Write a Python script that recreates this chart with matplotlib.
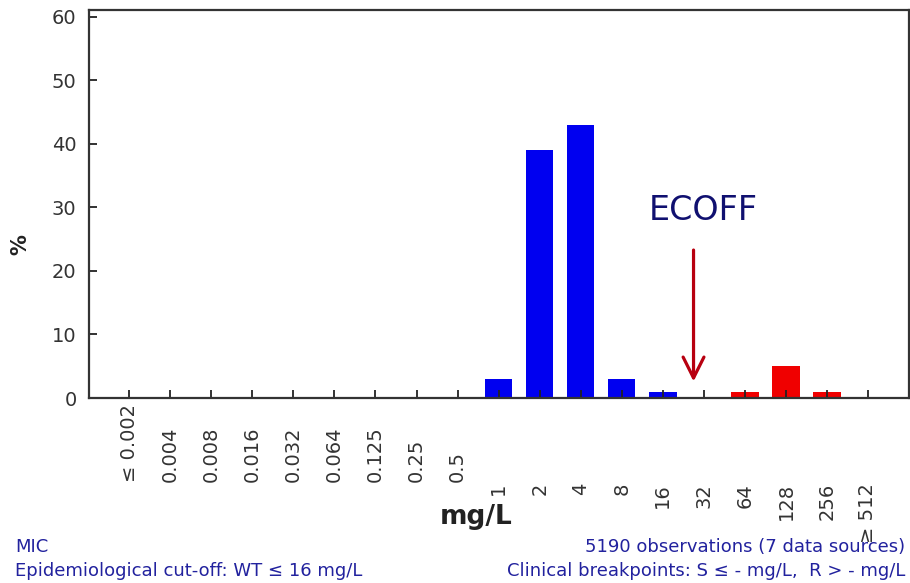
import numpy as np
import matplotlib.pyplot as plt
from matplotlib.transforms import blended_transform_factory

# MIC distribution, percentage of isolates per concentration (mg/L)
mic_labels = ["≤ 0.002", "0.004", "0.008", "0.016", "0.032", "0.064", "0.125",
              "0.25", "0.5", "1", "2", "4", "8", "16", "32", "64", "128", "256", "≥ 512"]
wild_type_pct = [0, 0, 0, 0, 0, 0, 0, 0, 0, 3, 39, 43, 3, 1, 0, 0, 0, 0, 0]
non_wild_pct = [0, 0, 0, 0, 0, 0, 0, 0, 0, 0, 0, 0, 0, 0, 0, 1, 5, 1, 0]
y_ticks = [0, 10, 20, 30, 40, 50, 60]
ecoff_pos = 13.75  # arrow sits between 16 and 32 mg/L
ecoff_arrow = (23.3, 2.6)

text_blue = "#22229e"
font_main = "DejaVu Sans"

fig = plt.figure(figsize=(9.10, 5.83), dpi=100)
ax = fig.add_axes([89 / 910, 1 - 398 / 583, 820 / 910, 388 / 583])

x = np.arange(len(mic_labels))
wt = np.array(wild_type_pct)
nwt = np.array(non_wild_pct)
ax.bar(x[wt > 0], wt[wt > 0], width=0.67, color="#0000f0", zorder=1)
ax.bar(x[nwt > 0], nwt[nwt > 0], width=0.67, color="#f00000", zorder=1)

ax.set_xlim(-0.98, 19.0)
ax.set_ylim(0, 61.1)
ax.set_yticks(y_ticks)
ax.set_xticks(x)
ax.set_xticklabels([])
ax.tick_params(axis="both", direction="in", length=6, width=1.3, color="#222222")
ax.tick_params(axis="y", pad=9, labelsize=14, labelcolor="#333333")
for s in ax.spines.values():
    s.set_linewidth(1.6)
    s.set_color("#333333")

# rotated concentration labels under the axis
trans = blended_transform_factory(ax.transData, fig.transFigure)
for i, lab in enumerate(mic_labels):
    if i < 9:
        ax.text(i, 1 - 482 / 583, lab, transform=trans, rotation=90,
                ha="center", va="bottom", fontsize=14, color="#333333",
                family=font_main)
    else:
        ax.text(i, 1 - 483 / 583, lab, transform=trans, rotation=90,
                ha="center", va="top", fontsize=14, color="#333333",
                family=font_main)

fig.text(20 / 910, 1 - 245 / 583, "%", rotation=90, ha="center", va="center",
         fontsize=15, fontweight="bold", color="#222222")
fig.text(476 / 910, 1 - 517 / 583, "mg/L", ha="center", va="center",
         fontsize=19, fontweight="bold", color="#222222")

# ECOFF marker
ax.annotate("", xy=(ecoff_pos, ecoff_arrow[1]), xytext=(ecoff_pos, ecoff_arrow[0]),
            arrowprops=dict(arrowstyle="->,head_width=0.5,head_length=1.0",
                            mutation_scale=15, lw=2.3, color="#b80010",
                            shrinkA=0, shrinkB=0))
ax.text(14.0, 29.6, "ECOFF", ha="center", va="center", fontsize=24,
        color="#101070", family=font_main)

# footer
fig.text(15 / 910, 1 - 547 / 583, "MIC", ha="left", va="center",
         fontsize=13, color=text_blue)
fig.text(15 / 910, 1 - 571 / 583, "Epidemiological cut-off: WT ≤ 16 mg/L",
         ha="left", va="center", fontsize=13, color=text_blue)
fig.text(905 / 910, 1 - 547 / 583, "5190 observations (7 data sources)",
         ha="right", va="center", fontsize=13, color=text_blue)
fig.text(905 / 910, 1 - 571 / 583, "Clinical breakpoints: S ≤ - mg/L,  R > - mg/L",
         ha="right", va="center", fontsize=13, color=text_blue)

fig.savefig("out.png", dpi=100)
